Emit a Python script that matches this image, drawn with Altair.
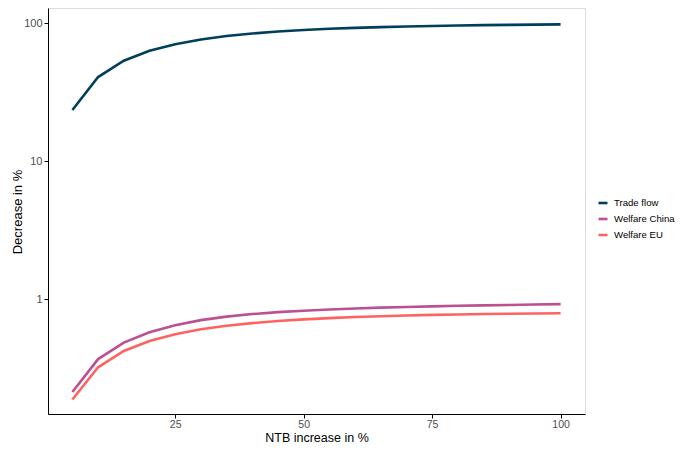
import altair as alt
import pandas as pd

ntb = [5, 10, 15, 20, 25, 30, 35, 40, 45, 50, 55, 60, 65, 70, 75, 80, 85, 90, 95, 100]
trade_flow = [23.4, 40.6, 53.3, 62.9, 70.2, 76.0, 80.5, 84.0, 86.8, 89.0, 90.8, 92.2,
              93.4, 94.4, 95.2, 95.9, 96.5, 97.0, 97.4, 97.7]
welfare_china = [0.212, 0.367, 0.483, 0.574, 0.645, 0.703, 0.745, 0.778, 0.803, 0.823,
                 0.840, 0.854, 0.866, 0.876, 0.885, 0.893, 0.900, 0.906, 0.912, 0.918]
welfare_eu = [0.187, 0.320, 0.420, 0.496, 0.555, 0.603, 0.640, 0.669, 0.692, 0.712,
              0.727, 0.740, 0.750, 0.759, 0.767, 0.773, 0.778, 0.782, 0.786, 0.789]

series_names = ["Trade flow", "Welfare China", "Welfare EU"]
series_colors = ["#003f5c", "#bc5090", "#ff6361"]

rows = []
for name, vals in zip(series_names, [trade_flow, welfare_china, welfare_eu]):
    for x, v in zip(ntb, vals):
        rows.append({"ntb": x, "value": v, "series": name})
df = pd.DataFrame(rows)

font = "Liberation Sans"
W, H = 537, 406

chart = alt.Chart(df).mark_line(strokeWidth=2.6).encode(
    x=alt.X("ntb:Q",
            scale=alt.Scale(domain=[0.25, 104.75], nice=False, zero=False),
            axis=alt.Axis(title="NTB increase in %", values=[25, 50, 75, 100],
                          grid=False, domainColor="black", tickColor="black",
                          tickSize=4, labelPadding=1, labelColor="#4d4d4d",
                          labelFontSize=10.5, titleFontSize=12.5, titleColor="black",
                          titleFontWeight="normal", titleBaseline="alphabetic",
                          titleX=W / 2, titleY=27.5, titleAlign="center",
                          labelFont=font, titleFont=font)),
    y=alt.Y("value:Q",
            scale=alt.Scale(type="log", domain=[0.1468, 128.5], nice=False),
            axis=alt.Axis(title="Decrease in %", values=[1, 10, 100], format="d",
                          grid=False, domainColor="black", tickColor="black",
                          tickSize=4, labelPadding=2, labelColor="#4d4d4d",
                          labelFontSize=11, titleFontSize=13, titleColor="black",
                          titleFontWeight="normal", titleBaseline="alphabetic",
                          titleX=-27, titleY=203.5, titleAlign="center",
                          labelFont=font, titleFont=font)),
    color=alt.Color("series:N",
                    scale=alt.Scale(domain=series_names, range=series_colors),
                    legend=alt.Legend(title=None, orient="none", legendX=549, legendY=189,
                                      symbolType="stroke", symbolSize=81,
                                      symbolStrokeWidth=2.6, labelFontSize=9.6,
                                      labelColor="black", labelFont=font,
                                      labelOffset=5, rowPadding=4, labelLimit=200)),
).properties(
    width=W, height=H,
    autosize=alt.AutoSizeParams(type="none"),
    padding={"left": 40, "top": 0, "right": 93, "bottom": 31},
).configure_view(stroke=None).configure(background="white")

chart.save("out.html", embed_options={"renderer": "svg", "actions": False})
